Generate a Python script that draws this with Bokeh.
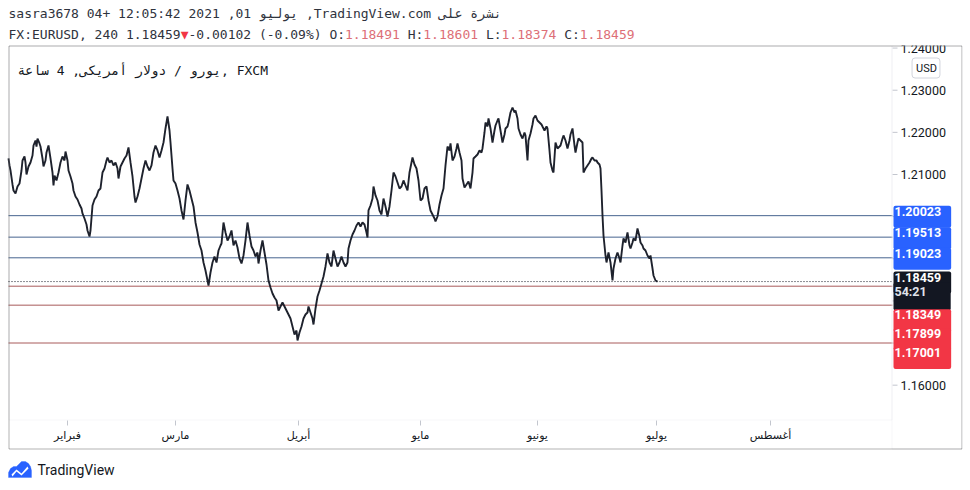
from bokeh.plotting import figure
from bokeh.models import (Range1d, FixedTicker, Label, BoxAnnotation,
                          PolyAnnotation, PrintfTickFormatter)
from bokeh.embed import file_html
from bokeh.resources import INLINE

# ---------------- data ----------------
bar = [
    0, 1, 2, 4, 5, 7, 9, 11, 13, 14, 16, 17, 18, 19, 20, 22, 24, 25, 27, 28,
    29, 31, 32, 34, 35, 37, 38, 40, 42, 44, 45, 46, 48, 50, 52, 54, 56, 57, 59, 60,
    62, 64, 65, 67, 69, 71, 73, 74, 76, 78, 79, 81, 82, 84, 86, 88, 90, 92, 94, 96,
    98, 99, 101, 103, 105, 107, 109, 110, 112, 114, 116, 118, 120, 122, 124, 126, 127, 129, 131, 133,
    135, 137, 139, 141, 143, 145, 147, 149, 151, 153, 155, 157, 159, 161, 162, 164, 165, 167, 169, 171,
    173, 175, 177, 179, 181, 183, 185, 187, 189, 191, 193, 195, 197, 199, 200, 202, 204, 206, 208, 210,
    212,
    213, 215, 217, 219, 221, 223, 225, 227, 229, 231, 233, 235, 237, 239, 241, 243, 245, 247, 249, 250,
    252, 254, 256, 258, 260, 262, 264, 266, 268, 270, 272, 274, 276, 278, 280, 282, 284, 286, 288, 289,
    291, 293, 295, 297, 299, 300, 302, 304, 305, 307, 309, 311, 313, 315, 317, 319, 321, 323, 325, 327,
    329, 331, 333, 335, 337, 339, 340, 342, 344, 346, 348, 350, 352, 354, 356, 358, 359, 360, 362, 364,
    365, 367, 369, 371, 373, 375, 377, 379, 381, 383, 385, 387, 389, 391, 393, 395, 397, 399, 401, 403,
    404, 406, 408, 410, 412, 414, 416, 418, 420, 422,
    424, 426, 427, 429, 431, 433, 435, 437, 439, 441, 442, 444, 446, 448, 449, 451, 453, 454, 456, 458,
    460, 462, 464, 465, 467, 469, 471, 473, 474, 476, 477, 479, 480, 482, 484, 486, 487, 489, 490, 492,
    494, 496, 497, 499, 500, 502, 504, 506, 507, 509, 510, 512, 514, 516, 517, 519, 520, 522, 524, 525,
    527, 529, 531, 533, 534, 536, 538, 539, 541, 542, 544, 545, 547, 549, 551, 552, 554, 555, 557, 559,
    561, 562, 564, 566, 567, 569, 570, 572, 574, 575, 577, 579, 581, 583, 584, 586, 588, 589, 591, 592,
    593, 594, 595, 596, 597, 598, 600, 602, 604, 605, 607, 609, 611, 612, 614, 615, 617, 619, 621, 622,
    624, 625, 627, 629, 631, 632, 634, 635, 637, 639, 641, 642, 644, 645, 647, 649,
]
close = [
    1.21380, 1.21214, 1.21095, 1.20763, 1.20620, 1.20549, 1.20715, 1.20786, 1.21095, 1.21332,
    1.21427, 1.21285, 1.21000, 1.21095, 1.21190, 1.21285, 1.21451, 1.21688, 1.21807, 1.21664,
    1.21854, 1.21736, 1.21664, 1.21380, 1.21190, 1.21332, 1.21522, 1.21688, 1.21380, 1.21047,
    1.20739, 1.20976, 1.20858, 1.21047, 1.21285, 1.21427, 1.21332, 1.21546, 1.21332, 1.21095,
    1.20953, 1.20786, 1.20620, 1.20478, 1.20407, 1.20288, 1.20193, 1.20075, 1.19956, 1.19813,
    1.19671, 1.19529, 1.19671, 1.20264, 1.20407, 1.20478, 1.20620, 1.20668, 1.21047, 1.21142,
    1.21332, 1.21403, 1.21285, 1.21332, 1.21214, 1.21285, 1.21142, 1.20905, 1.21190, 1.21285,
    1.21380, 1.21451, 1.21641, 1.21285, 1.20953, 1.20478, 1.20336, 1.20478, 1.20668, 1.20905,
    1.21142, 1.21332, 1.21190, 1.21095, 1.21214, 1.21522, 1.21688, 1.21570, 1.21403, 1.21570,
    1.21759, 1.22092, 1.22376, 1.22044, 1.21759, 1.21142, 1.20858, 1.20786, 1.20620, 1.20430,
    1.20146, 1.19932, 1.20383, 1.20763, 1.20620, 1.20430, 1.20241, 1.19861, 1.19624, 1.19339,
    1.19196, 1.18912, 1.18722, 1.18484, 1.18366, 1.18674, 1.18912, 1.19054, 1.18912, 1.19196,
    1.19315,
    1.19363, 1.19861, 1.19624, 1.19434, 1.19529, 1.19671, 1.19315, 1.19434, 1.19268, 1.19007,
    1.18888, 1.19078, 1.19434, 1.19861, 1.19552, 1.19291, 1.19196, 1.19054, 1.19149, 1.18888,
    1.19196, 1.19434, 1.19149, 1.18864, 1.18484, 1.18318, 1.18176, 1.18081, 1.18010, 1.17773,
    1.17867, 1.17962, 1.17867, 1.17773, 1.17678, 1.17583, 1.17393, 1.17203, 1.17298, 1.17061,
    1.17251, 1.17393, 1.17583, 1.17678, 1.17725, 1.17867, 1.17725, 1.17583, 1.17440, 1.17820,
    1.18105, 1.18247, 1.18413, 1.18579, 1.18817, 1.19125, 1.18912, 1.18817, 1.19196, 1.19007,
    1.18817, 1.18912, 1.19054, 1.18912, 1.18817, 1.18912, 1.19244, 1.19434, 1.19576, 1.19671,
    1.19790, 1.19861, 1.19766, 1.19861, 1.19813, 1.19624, 1.19505, 1.20146, 1.20264, 1.20430,
    1.20715, 1.20502, 1.20383, 1.20146, 1.20051, 1.20430, 1.20241, 1.20003, 1.20241, 1.20620,
    1.21047, 1.20953, 1.20810, 1.20668, 1.20715, 1.20858, 1.20739, 1.20620, 1.21047, 1.21285,
    1.21403, 1.21237, 1.21142, 1.20858, 1.20383, 1.20430, 1.20668, 1.20715, 1.20383, 1.20146,
    1.20051, 1.19956, 1.19885, 1.20003, 1.20288, 1.20502, 1.20668, 1.21214, 1.21664, 1.21570,
    1.21736, 1.21332, 1.21427, 1.21617, 1.21736, 1.21522, 1.21332, 1.20905, 1.20691, 1.20763,
    1.20834, 1.20668, 1.21047, 1.21380, 1.21427, 1.21475, 1.21570, 1.21522, 1.21617, 1.21997,
    1.22234, 1.22139, 1.22329, 1.22092, 1.21759, 1.22044, 1.22163, 1.22281, 1.22329, 1.22044,
    1.21759, 1.21949, 1.22092, 1.22139, 1.22234, 1.22471, 1.22590, 1.22471, 1.22519, 1.22329,
    1.22092, 1.21949, 1.21854, 1.21997, 1.21926, 1.21332, 1.21807, 1.21973, 1.22187, 1.22329,
    1.22400, 1.22281, 1.22234, 1.22187, 1.22139, 1.22044, 1.22139, 1.22092, 1.21570, 1.21285,
    1.21095, 1.21047, 1.21759, 1.21617, 1.21664, 1.21688, 1.21854, 1.21926, 1.21807, 1.21617,
    1.21807, 1.21949, 1.22092, 1.21688, 1.21522, 1.21759, 1.21854, 1.21807, 1.21759, 1.21047,
    1.21142, 1.21214, 1.21285, 1.21380, 1.21403, 1.21332, 1.21332, 1.21285, 1.21237, 1.21142,
    1.20620, 1.20027, 1.19552, 1.19315, 1.19078, 1.18912, 1.19149, 1.18912, 1.18484, 1.18769,
    1.19007, 1.19149, 1.19007, 1.18912, 1.19315, 1.19481, 1.19386, 1.19624, 1.19315, 1.19244,
    1.19386, 1.19481, 1.19434, 1.19719, 1.19529, 1.19386, 1.19315, 1.19244, 1.19196, 1.19078,
    1.19007, 1.19078, 1.18769, 1.18603, 1.18484, 1.18459,
]
assert len(bar) == len(close), (len(bar), len(close))

month_ticks = [59, 167, 290, 412, 529, 648, 762]
month_labels = ["فبراير", "مارس", "أبريل", "مايو", "يونيو", "يوليو", "أغسطس"]
price_ticks = [1.16, 1.17, 1.18, 1.19, 1.20, 1.21, 1.22, 1.23, 1.24]

resistance_levels = [1.20023, 1.19513, 1.19023]
support_levels = [1.18349, 1.17899, 1.17001]
last_price = 1.18459
countdown = "54:21"

header_line1 = "sasra3678 04+ 12:05:42 2021 ,01 يوليو ,TradingView.com نشرة على"
symbol_text = "FX:EURUSD, 240 "
change_text = "-0.00102 (-0.09%)"
ohlc_names = ["O", "H", "L", "C"]
ohlc_values = [1.18491, 1.18601, 1.18374, 1.18459]
legend_text = "يورو / دولار أمريكى, 4 ساعة, FXCM"

# ---------------- layout / styles ----------------
W, H = 970, 490
PANE_L, PANE_R, PANE_T, PANE_B = 8, 892, 45, 420     # price pane (px)
BOX_R, BOX_B = 962, 449                              # outer chart border (px)
PANE_TOP_PRICE, PANE_BOT_PRICE = 1.24061, 1.15162    # visible price span of the pane
FRAME_B = H - 8                                      # frame covers 0..962 x 0..482

DARK = "#131722"
TXT = "#2f333d"
PINK = "#dd6f77"
BLUE_LINE = "#46648f"
RED_LINE = "#a85a5a"
BLUE_BOX = "#2962ff"
RED_BOX = "#f23645"
GRID = "#e0e3eb"
TICK = "#c3c6ce"
MONO = "DejaVu Sans Mono"
MONO_SIZE = 13
CW = 0.602 * MONO_SIZE

ppx = (PANE_TOP_PRICE - PANE_BOT_PRICE) / (PANE_B - PANE_T)   # price per pixel
def price_at(ypx):
    return PANE_TOP_PRICE - (ypx - PANE_T) * ppx

pane_w = PANE_R - PANE_L
p = figure(width=W, height=H, output_backend="svg", toolbar_location=None,
           x_range=Range1d(-PANE_L, BOX_R - PANE_L),
           y_range=Range1d(price_at(FRAME_B), price_at(0)),
           y_axis_location="right",
           min_border_left=0, min_border_right=8, min_border_top=0, min_border_bottom=8,
           background_fill_color="white", border_fill_color="white",
           outline_line_color=None)
p.grid.visible = False

ya = p.yaxis[0]
ya.ticker = FixedTicker(ticks=price_ticks)
ya.formatter = PrintfTickFormatter(format="%.5f")
ya.axis_line_color = None
ya.major_tick_line_color = None
ya.minor_tick_line_color = None
ya.major_tick_out = 0
ya.major_tick_in = 0
ya.major_label_standoff = -(BOX_R - 900)
ya.major_label_text_font = "Roboto"
ya.major_label_text_font_size = "12.5px"
ya.major_label_text_color = DARK

xa = p.xaxis[0]
xa.ticker = FixedTicker(ticks=month_ticks)
xa.major_label_overrides = {t: l for t, l in zip(month_ticks, month_labels)}
xa.axis_line_color = None
xa.major_tick_line_color = None
xa.minor_tick_line_color = None
xa.major_tick_out = 0
xa.major_tick_in = 0
xa.major_label_standoff = -(FRAME_B - 428)
xa.major_label_text_font = "DejaVu Sans"
xa.major_label_text_font_size = "11px"
xa.major_label_text_color = DARK

# pane separators (light)
p.add_layout(BoxAnnotation(left=PANE_L + 0.5, right=PANE_R - 0.5, top=PANE_T + 0.5, bottom=PANE_B - 0.5,
                           left_units="canvas", right_units="canvas", top_units="canvas",
                           bottom_units="canvas", fill_alpha=0, line_color=GRID, line_width=1))
p.add_layout(BoxAnnotation(left=PANE_R - 0.5, right=BOX_R - 0.5, top=PANE_T + 0.5, bottom=BOX_B - 0.5,
                           left_units="canvas", right_units="canvas", top_units="canvas",
                           bottom_units="canvas", fill_alpha=0, line_color=GRID, line_width=1))

# scale tick marks
n = len(price_ticks)
p.segment(x0=[pane_w] * n, x1=[pane_w + 5] * n, y0=price_ticks, y1=price_ticks,
          line_color=TICK, line_width=1)
m = len(month_ticks)
p.segment(x0=month_ticks, x1=month_ticks, y0=[price_at(PANE_B)] * m, y1=[price_at(PANE_B + 5)] * m,
          line_color=TICK, line_width=1)

# horizontal levels
levels = resistance_levels + support_levels
colors = [BLUE_LINE] * len(resistance_levels) + [RED_LINE] * len(support_levels)
p.segment(x0=[0] * len(levels), x1=[pane_w] * len(levels), y0=levels, y1=levels,
          line_color=colors, line_width=1)
p.segment(x0=[0], x1=[pane_w], y0=[last_price], y1=[last_price],
          line_color=DARK, line_width=1, line_dash="1 2")

# price series
p.line(bar, close, line_color="#1e222d", line_width=1.9)

# hide the upper half of the top scale label (the chart is clipped at its border)
p.add_layout(BoxAnnotation(left=PANE_R + 1, right=BOX_R - 1, top=0, bottom=PANE_T,
                           left_units="canvas", right_units="canvas",
                           top_units="canvas", bottom_units="canvas",
                           fill_color="white", fill_alpha=1, line_color=None))

# price tags on the right scale
def tag(price, text, color, offset, pad=(1, 10, 1, 12), tcolor="white"):
    p.add_layout(Label(x=PANE_R + 1, x_units="canvas", y=price, y_units="data",
                       y_offset=offset, text=text, text_align="left",
                       text_baseline="middle", text_font="Roboto",
                       text_font_size="12.5px", text_font_style="bold",
                       text_color=tcolor, background_fill_color=color,
                       background_fill_alpha=1, padding=pad,
                       border_radius=2))

for v in resistance_levels:
    tag(v, f"{v:.5f}", BLUE_BOX, -1)
# last price tag, then the bar countdown underneath in the same dark box
tag(last_price, f"{last_price:.5f}", DARK, -1)
tag(last_price, countdown, DARK, -15, pad=(1, 24, 1, 12), tcolor="#e0e3eb")
for v, off in zip(support_levels, [-34, -34, -15]):
    tag(v, f"{v:.5f}", RED_BOX, off)

# currency badge
p.add_layout(Label(x=925.5, y=67.5, x_units="canvas", y_units="canvas",
                   text="USD", text_align="center", text_baseline="middle",
                   text_font="Roboto", text_font_size="11px", text_color=DARK,
                   border_line_color="#d1d4dc", border_line_width=1,
                   background_fill_color="white", background_fill_alpha=1,
                   padding=(4, 3, 4, 3), border_radius=3))

# outer black border of the chart
p.add_layout(BoxAnnotation(left=PANE_L + 0.5, right=BOX_R - 0.5, top=PANE_T + 0.5, bottom=BOX_B - 0.5,
                           left_units="canvas", right_units="canvas",
                           top_units="canvas", bottom_units="canvas",
                           fill_alpha=0, line_color="black", line_width=1))

# header lines (monospace columns)
def mono(text, col, y, color):
    p.add_layout(Label(x=8 + col * CW, y=y, x_units="canvas", y_units="canvas",
                       text=text, text_align="left", text_baseline="middle",
                       text_font=MONO, text_font_size=f"{MONO_SIZE}px",
                       text_color=color))

mono(header_line1, 0, 13, TXT)
first = symbol_text + f"{last_price:.5f}"
col = 0
mono(first, col, 34, TXT)
col += len(first)
mono("▼", col, 34, RED_BOX)
col += 1
for i, (name, val) in enumerate(zip(ohlc_names, ohlc_values)):
    if i == 0:
        lead = change_text + " " + name + ":"
    else:
        col += 1                      # separating blank
        lead = name + ":"
    mono(lead, col, 34, TXT)
    col += len(lead)
    s = f"{val:.5f}"
    mono(s, col, 34, PINK)
    col += len(s)

# legend inside pane
p.add_layout(Label(x=17, y=70, x_units="canvas", y_units="canvas",
                   text=legend_text, text_align="left", text_baseline="middle",
                   text_font=MONO, text_font_size=f"{MONO_SIZE}px", text_color=DARK))

# TradingView logo
p.add_layout(PolyAnnotation(xs=[8, 8, 10, 13, 16, 18, 21, 25, 28, 30, 31, 31],
                            ys=[477, 472, 468, 466, 466, 464, 461, 461, 463, 466, 470, 477],
                            xs_units="canvas", ys_units="canvas",
                            fill_color="#2962ff", fill_alpha=1, line_color="#2962ff"))
p.add_layout(PolyAnnotation(xs=[11, 16, 21, 27, 28, 21, 16, 12],
                            ys=[474, 469, 473, 466, 468, 475, 471, 476],
                            xs_units="canvas", ys_units="canvas",
                            fill_color="white", fill_alpha=1, line_color=None))
p.add_layout(Label(x=37, y=469, x_units="canvas", y_units="canvas",
                   text="TradingView", text_align="left", text_baseline="middle",
                   text_font="Roboto", text_font_size="14px", text_color=DARK))

open("out.html", "w").write(file_html(p, INLINE))
